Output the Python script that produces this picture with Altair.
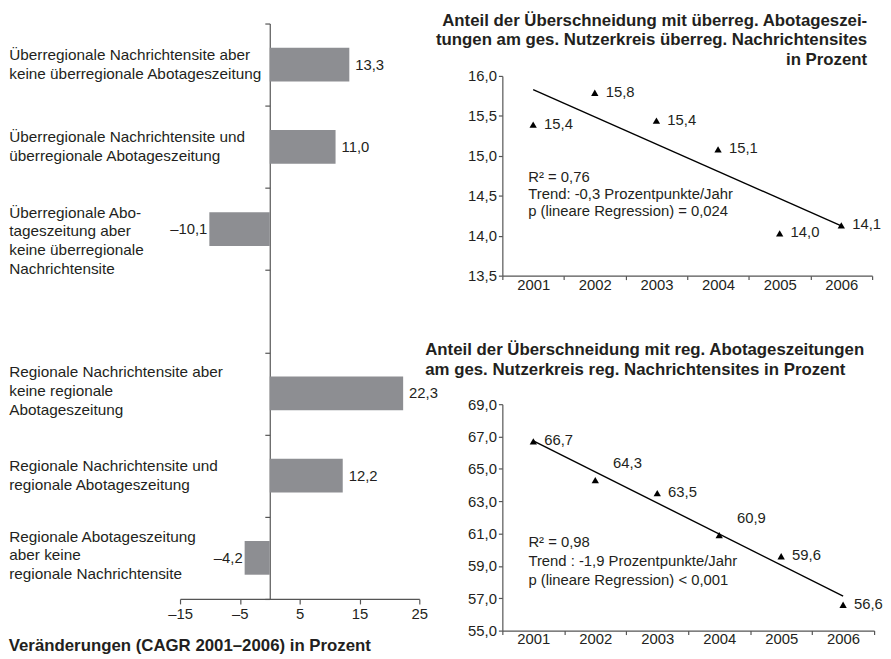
import altair as alt
import pandas as pd

FONT = "Liberation Sans"
TXT = "#231f20"
AX = "#555555"
BAR = "#8d8e92"

# ---------------- data ----------------
bar_labels = [
    "Überregionale Nachrichtensite aber|keine überregionale Abotageszeitung",
    "Überregionale Nachrichtensite und|überregionale Abotageszeitung",
    "Überregionale Abo-|tageszeitung aber|keine überregionale|Nachrichtensite",
    "Regionale Nachrichtensite aber|keine regionale|Abotageszeitung",
    "Regionale Nachrichtensite und|regionale Abotageszeitung",
    "Regionale Abotageszeitung|aber keine|regionale Nachrichtensite",
]
bar_values = [13.3, 11.0, -10.1, 22.3, 12.2, -4.2]
bar_x_ticks = [-15, -5, 5, 15, 25]
bar_x_domain = [-15, 25]

years = [2001, 2002, 2003, 2004, 2005, 2006]
share_ueberreg = [15.39, 15.79, 15.44, 15.08, 14.03, 14.13]
share_reg = [66.7, 64.3, 63.5, 60.9, 59.6, 56.6]

y1_ticks = [13.5, 14.0, 14.5, 15.0, 15.5, 16.0]
y2_ticks = [55.0, 57.0, 59.0, 61.0, 63.0, 65.0, 67.0, 69.0]

title_left = "Veränderungen (CAGR 2001–2006) in Prozent"
title_top = ["Anteil der Überschneidung mit überreg. Abotageszei-",
             "tungen am ges. Nutzerkreis überreg. Nachrichtensites",
             "in Prozent"]
title_bottom = ["Anteil der Überschneidung mit reg. Abotageszeitungen",
                "am ges. Nutzerkreis reg. Nachrichtensites in Prozent"]
note_top = ["R² = 0,76", "Trend: -0,3 Prozentpunkte/Jahr", "p (lineare Regression) = 0,024"]
note_bottom = ["R² = 0,98", "Trend : -1,9 Prozentpunkte/Jahr", "p (lineare Regression) < 0,001"]

# ---------------- left bar chart ----------------
W1, H1 = 242, 582
bars_df = pd.DataFrame({"cat": bar_labels, "v": bar_values})
y_domain = bar_labels[:3] + [" "] + bar_labels[3:]
zero_offset = -W1 * (0 - bar_x_domain[0]) / (bar_x_domain[1] - bar_x_domain[0])

lab_expr = "(datum.v < 0 ? '–' : '') + replace(format(abs(datum.v), '.1f'), '.', ',')"
nlines = "length(split(datum.label, '|'))"

ybar = alt.Y(
    "cat:N",
    scale=alt.Scale(domain=y_domain, paddingInner=0, paddingOuter=0),
    axis=alt.Axis(
        title=None, orient="left", offset=zero_offset, tickBand="extent",
        labelAlign="left", labelBaseline="middle", labelPadding=259, labelLimit=500,
        labelExpr="split(datum.label, '|')", labelLineHeight=19,
        labelFontSize=15.5, tickSize=5,
        labelOffset={"expr": f"{nlines} == 3 ? -22 : ({nlines} == 4 ? -17 : -10)"},
    ),
)
xbar = alt.X(
    "v:Q",
    scale=alt.Scale(domain=bar_x_domain, nice=False, zero=False),
    axis=alt.Axis(
        title=None, values=bar_x_ticks, grid=False, tickSize=5, labelPadding=3,
        labelFontSize=15, labelFlush=False, labelOverlap=False,
        labelExpr="datum.value < 0 ? '–' + abs(datum.value) : '' + datum.value",
    ),
)

base_bar = alt.Chart(bars_df)
bars = base_bar.mark_bar(color=BAR, height={"band": 0.41}).encode(x=xbar, y=ybar)
pos_lab = base_bar.transform_filter("datum.v >= 0").transform_calculate(lab=lab_expr).mark_text(
    align="left", baseline="middle", dx=6, font=FONT, fontSize=15, color=TXT
).encode(x=alt.X("v:Q"), y=alt.Y("cat:N"), text="lab:N")
neg_lab = base_bar.transform_filter("datum.v < 0").transform_calculate(lab=lab_expr).mark_text(
    align="right", baseline="middle", dx=-2, font=FONT, fontSize=15, color=TXT
).encode(x=alt.X("v:Q"), y=alt.Y("cat:N"), text="lab:N")

left = alt.layer(bars, pos_lab, neg_lab).properties(
    width=W1, height=H1,
    title=alt.TitleParams(
        title_left, orient="bottom", anchor="start", frame="bounds",
        fontSize=17, fontWeight="bold", font=FONT, color=TXT, offset=17,
    ),
)

# ---------------- right scatter charts ----------------
num_expr = "replace(format(datum.value, '.1f'), '.', ',')"


def scatter(values, ydom, yticks, width, height, title, note, note_y, note_lh,
            above_years, lab_pad):
    df = pd.DataFrame({"year": years, "value": values})
    xenc = alt.X(
        "year:O",
        scale=alt.Scale(type="band", paddingInner=0, paddingOuter=0),
        axis=alt.Axis(title=None, tickBand="extent", labelAngle=0, labelAlign="center",
                      tickSize=4, labelPadding=lab_pad, labelFontSize=15),
    )
    yenc = alt.Y(
        "value:Q",
        scale=alt.Scale(domain=ydom, nice=False, zero=False),
        axis=alt.Axis(title=None, values=yticks, tickCount=len(yticks), grid=False,
                      tickSize=4, labelPadding=2, labelFontSize=15, labelExpr=num_expr,
                      labelOverlap=False, labelFlush=False),
    )
    base = alt.Chart(df).transform_calculate(
        lab="replace(format(datum.value, '.1f'), '.', ',')"
    )
    pts = base.mark_point(shape="triangle-up", filled=True, color="black",
                          opacity=1, size=55).encode(x=xenc, y=yenc)
    cond = " || ".join(f"datum.year == {y}" for y in above_years) or "false"
    lab_side = base.transform_filter(f"!({cond})").mark_text(
        align="left", baseline="middle", dx=11, dy=-1, font=FONT, fontSize=15, color=TXT
    ).encode(x="year:O", y="value:Q", text="lab:N")
    lab_above = base.transform_filter(cond).mark_text(
        align="left", baseline="middle", dx=18, dy=-17, font=FONT, fontSize=15, color=TXT
    ).encode(x="year:O", y="value:Q", text="lab:N")
    trend = (
        alt.Chart(df)
        .transform_regression("year", "value", params=True)
        .transform_calculate(
            a=f"datum.coef[0] + datum.coef[1] * {years[0]}",
            b=f"datum.coef[0] + datum.coef[1] * {years[-1]}",
        )
        .transform_fold(["a", "b"], as_=["key", "value"])
        .transform_calculate(year=f"datum.key == 'a' ? {years[0]} : {years[-1]}")
        .mark_line(color="black", strokeWidth=1.4)
        .encode(x="year:O", y="value:Q")
    )
    txt = alt.Chart(pd.DataFrame({"note": [0]})).mark_text(
        align="left", baseline="middle", dx=-5, font=FONT, fontSize=15,
        color=TXT, lineHeight=note_lh,
    ).encode(
        x=alt.datum(years[0], type="ordinal"),
        y=alt.datum(note_y),
        text=alt.value(note),
    )
    return alt.layer(trend, pts, lab_side, lab_above, txt).properties(
        width=width, height=height, title=title
    )


top = scatter(
    share_ueberreg, [13.5, 16.0], y1_ticks, 374, 202,
    alt.TitleParams(title_top, anchor="end", frame="group", fontSize=17,
                    fontWeight="bold", font=FONT, color=TXT, lineHeight=20,
                    offset=0, dx=-5),
    note_top, 14.74, 17.5, [], 5,
)
bottom = scatter(
    share_reg, [55.0, 69.0], y2_ticks, 376, 229,
    alt.TitleParams(title_bottom, anchor="start", frame="group", fontSize=17,
                    fontWeight="bold", font=FONT, color=TXT, lineHeight=20,
                    offset=19, dx=-78),
    note_bottom, 60.50, 19.5, [2002, 2004], 4,
)

spacer = alt.Chart(pd.DataFrame({"s": [0]})).mark_point(opacity=0).properties(
    width=10, height=43
)

right = alt.vconcat(
    spacer,
    alt.vconcat(top, bottom, spacing=130, bounds="flush"),
    spacing=10, bounds="flush",
)

chart = (
    alt.hconcat(left, right, spacing=84, bounds="flush")
    .properties(padding=0, background="white")
    .configure_view(stroke=None)
    .configure_axis(
        labelFont=FONT, labelColor=TXT, domainColor=AX, tickColor=AX,
        domainWidth=1.2, tickWidth=1.2, grid=False,
    )
)

chart.save("out.html", embed_options={"renderer": "svg", "actions": False})
